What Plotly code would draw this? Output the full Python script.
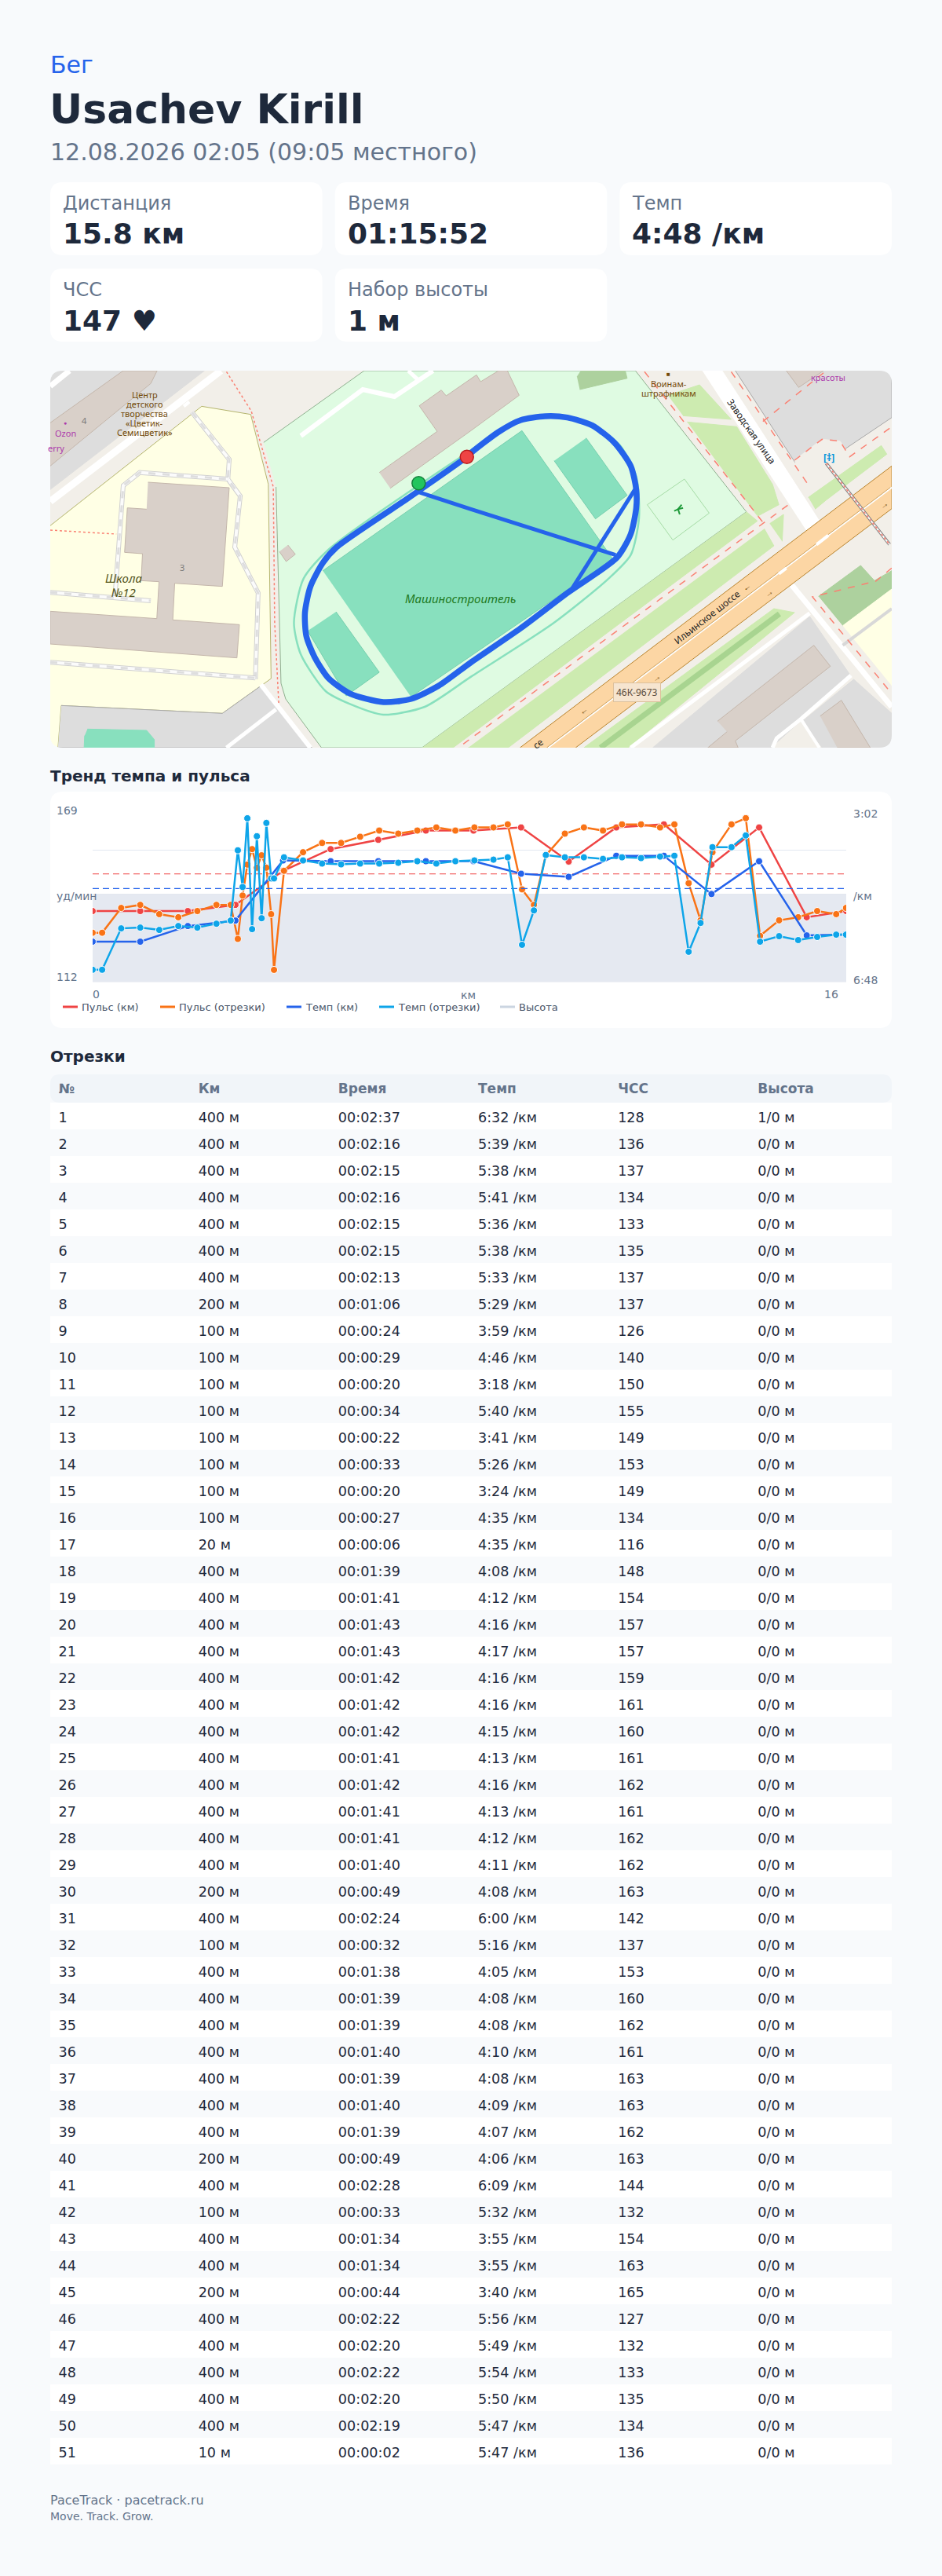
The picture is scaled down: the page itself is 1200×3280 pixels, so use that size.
#!/usr/bin/env python3

import plotly.graph_objects as go

W = 1200
H = 3280
FONT = "DejaVu Sans"
MAP_FONT = "Noto Sans"
BG = "#f8fafc"
INK = "#1e293b"
MUTED = "#64748b"
RED = "#ef4444"
ORANGE = "#f97316"
BLUE = "#2563eb"
SKY = "#0ea5e9"

# summary cards
CARD_LABELS = ["Дистанция", "Время", "Темп", "ЧСС", "Набор высоты"]
CARD_VALUES = ["15.8 км", "01:15:52", "4:48 /км", "147 ♥", "1 м"]

# table rows
SEG_NO = list(range(1, 52))
SEG_DIST = ["400 м", "400 м", "400 м", "400 м", "400 м", "400 м", "400 м", "200 м", "100 м", "100 м",
            "100 м", "100 м", "100 м", "100 м", "100 м", "100 м", "20 м", "400 м", "400 м", "400 м",
            "400 м", "400 м", "400 м", "400 м", "400 м", "400 м", "400 м", "400 м", "400 м", "200 м",
            "400 м", "100 м", "400 м", "400 м", "400 м", "400 м", "400 м", "400 м", "400 м", "200 м",
            "400 м", "100 м", "400 м", "400 м", "200 м", "400 м", "400 м", "400 м", "400 м", "400 м", "10 м"]
SEG_TIME = ["00:02:37", "00:02:16", "00:02:15", "00:02:16", "00:02:15", "00:02:15", "00:02:13", "00:01:06",
            "00:00:24", "00:00:29", "00:00:20", "00:00:34", "00:00:22", "00:00:33", "00:00:20", "00:00:27",
            "00:00:06", "00:01:39", "00:01:41", "00:01:43", "00:01:43", "00:01:42", "00:01:42", "00:01:42",
            "00:01:41", "00:01:42", "00:01:41", "00:01:41", "00:01:40", "00:00:49", "00:02:24", "00:00:32",
            "00:01:38", "00:01:39", "00:01:39", "00:01:40", "00:01:39", "00:01:40", "00:01:39", "00:00:49",
            "00:02:28", "00:00:33", "00:01:34", "00:01:34", "00:00:44", "00:02:22", "00:02:20", "00:02:22",
            "00:02:20", "00:02:19", "00:00:02"]
SEG_PACE = ["6:32", "5:39", "5:38", "5:41", "5:36", "5:38", "5:33", "5:29", "3:59", "4:46",
            "3:18", "5:40", "3:41", "5:26", "3:24", "4:35", "4:35", "4:08", "4:12", "4:16",
            "4:17", "4:16", "4:16", "4:15", "4:13", "4:16", "4:13", "4:12", "4:11", "4:08",
            "6:00", "5:16", "4:05", "4:08", "4:08", "4:10", "4:08", "4:09", "4:07", "4:06",
            "6:09", "5:32", "3:55", "3:55", "3:40", "5:56", "5:49", "5:54", "5:50", "5:47", "5:47"]
SEG_HR = [128, 136, 137, 134, 133, 135, 137, 137, 126, 140,
          150, 155, 149, 153, 149, 134, 116, 148, 154, 157,
          157, 159, 161, 160, 161, 162, 161, 162, 162, 163,
          142, 137, 153, 160, 162, 161, 163, 163, 162, 163,
          144, 132, 154, 163, 165, 127, 132, 133, 135, 134, 136]
SEG_ELEV = ["1/0 м"] + ["0/0 м"] * 50

# chart series, x in km. segments sit on their midpoints, with one extra point at 0
SEG_KM = [0.0, 0.2, 0.6, 1.0, 1.4, 1.8, 2.2, 2.6, 2.9, 3.05, 3.15, 3.25, 3.35, 3.45, 3.55, 3.65, 3.75, 3.81,
          4.02, 4.42, 4.82, 5.22, 5.62, 6.02, 6.42, 6.82, 7.22, 7.62, 8.02, 8.42, 8.72, 9.02, 9.27, 9.52,
          9.92, 10.32, 10.72, 11.12, 11.52, 11.92, 12.22, 12.52, 12.77, 13.02, 13.42, 13.72, 14.02, 14.42,
          14.82, 15.22, 15.62, 15.825]
KM_X = [0, 1, 2, 3, 4, 5, 6, 7, 8, 9, 10, 11, 12, 13, 14, 15, 15.83]
KM_HR = [135, 135, 135, 137, 148, 155, 158, 161, 161, 162, 151, 162, 163, 150, 162, 133, 135]
KM_PACE_SEC = [356, 356, 336, 329, 252, 253, 253, 253, 253, 269, 273, 246, 246, 295, 253, 348, 347]
KM_ELEV = [1, 1, 1, 1, 1, 1, 1, 1, 1, 1, 1, 1, 1, 1, 1, 1, 1]
AVG_HR = 147
AVG_PACE_SEC = 288
HR_RANGE = [112, 169]
PACE_RANGE = [408, 182]

# route on the map, in map units
ROUTE_RING = [(1553, 365), (1378, 495), (1330, 530), (1080, 710), (1030, 770), (985, 860), (965, 960),
              (970, 1050), (1000, 1130), (1050, 1210), (1130, 1270), (1250, 1302), (1350, 1290), (1450, 1240),
              (1568, 1150), (1748, 1020), (1918, 885), (2098, 750), (2148, 660), (2168, 560), (2168, 490),
              (2148, 400), (2088, 310), (2008, 245), (1918, 215), (1838, 210), (1748, 225), (1668, 270),
              (1568, 350), (1553, 365)]
ROUTE_CUTS = [(1378, 500), (1568, 565), (2093, 740), None, (2163, 490), (1928, 880)]
ROUTE_START = (1378, 466)
ROUTE_END = (1553, 365)


def px(x):
    return x / W


def py(y):
    return 1 - y / H


def secs(pace):
    m, s = pace.split(":")
    return int(m) * 60 + int(s)


def rrect(x0, y0, x1, y1, r):
    # rounded rectangle path in paper coordinates
    return (f"M {px(x0 + r)} {py(y0)} L {px(x1 - r)} {py(y0)} Q {px(x1)} {py(y0)} {px(x1)} {py(y0 + r)} "
            f"L {px(x1)} {py(y1 - r)} Q {px(x1)} {py(y1)} {px(x1 - r)} {py(y1)} "
            f"L {px(x0 + r)} {py(y1)} Q {px(x0)} {py(y1)} {px(x0)} {py(y1 - r)} "
            f"L {px(x0)} {py(y0 + r)} Q {px(x0)} {py(y0)} {px(x0 + r)} {py(y0)} Z")


fig = go.Figure()
shapes = []
notes = []


def box(x0, y0, x1, y1, color, r=0):
    shapes.append(dict(type="path", path=rrect(x0, y0, x1, y1, r), xref="paper", yref="paper",
                       fillcolor=color, line=dict(width=0), layer="below"))


def txt(x, y, text, size, color=INK, bold=False, anchor="left"):
    notes.append(dict(x=px(x), y=py(y), xref="paper", yref="paper", text=f"<b>{text}</b>" if bold else text,
                      showarrow=False, xanchor=anchor, yanchor="middle", borderpad=0, borderwidth=0,
                      font=dict(family=FONT, size=size, color=color)))


# ---- header and cards
txt(64, 82, "Бег", 30, BLUE)
txt(63, 139, "Usachev Kirill", 52, INK, True)
txt(64, 193, "12.08.2026 02:05 (09:05 местного)", 30, MUTED)

card_x = [64, 426.67, 789.33]
card_y = [232, 342]
for i, (label_text, value) in enumerate(zip(CARD_LABELS, CARD_VALUES)):
    cx = card_x[i % 3]
    cy = card_y[i // 3]
    box(cx, cy, cx + 346.67, cy + 93, "#ffffff", 16)
    txt(cx + 16, cy + 27, label_text, 24, MUTED)
    txt(cx + 16, cy + 66, value, 36, INK, True)


# ---- map, drawn in its own axes. units are page px scaled 2.85 across and 3 down
def rt(pts):
    # features of the right half of the map are measured from its own left edge
    return [None if p is None else (p[0] + 1568, p[1]) for p in pts]


def xs(pts):
    return [None if p is None else p[0] for p in pts]


def ys(pts):
    return [None if p is None else p[1] for p in pts]


def poly(color, pts, edge=None):
    fig.add_trace(go.Scatter(x=xs(pts), y=ys(pts), xaxis="x2", yaxis="y4", mode="lines", fill="toself",
                             fillcolor=color, line=dict(color=edge or color, width=1), hoverinfo="skip",
                             showlegend=False))


def path(color, width, pts, dash=None, smooth=False):
    line = dict(color=color, width=width, dash=dash)
    if smooth:
        line.update(shape="spline", smoothing=0.7)
    fig.add_trace(go.Scatter(x=xs(pts), y=ys(pts), xaxis="x2", yaxis="y4", mode="lines",
                             line=line, hoverinfo="skip", showlegend=False))


def label(u, v, text, size, color, angle=0):
    notes.append(dict(x=u, y=v, xref="x2", yref="y4", text=text, showarrow=False, textangle=angle,
                      font=dict(family=MAP_FONT, size=size, color=color), borderpad=0))


LAND = "#f2efe9"
GRAY = "#dddddd"
BUILD = "#d9d0c9"
PITCH = "#88e0be"
PARK = "#dffbe2"
GRASS = "#cdebb0"
FOOT = "#fa8072"
YARD = "#ffffe5"
ROAD = "#fcd6a4"

poly(LAND, [(40, 36), (3096, 36), (3096, 1476), (40, 1476)])

# top left block
poly(GRAY, [(40, 36), (600, 36), (40, 490)])
poly(BUILD, [(40, 235), (305, 36), (428, 36), (405, 85), (40, 400)], "#c4b6ab")
path("#ffffff", 7, [(40, 95), (110, 36)])
path("#ffffff", 9, [(40, 535), (660, 36)])

# school
poly(YARD, [(40, 628), (590, 172), (768, 203), (832, 470), (842, 1212), (665, 1345), (80, 1315), (68, 1476), (40, 1476)],
     "#b5b56e")
poly(GRAY, [(80, 1315), (665, 1345), (805, 1240), (990, 1476), (68, 1476)], "#aaaaaa")
poly(PITCH, [(175, 1405), (390, 1410), (418, 1445), (418, 1476), (163, 1476), (165, 1430)])
path("#ffffff", 6, [(805, 1235), (985, 1476)])
path("#ffffff", 5, [(860, 1330), (680, 1476)])
path("#ffffff", 4, [(525, 172), (545, 155)])
poly(BUILD, [(395, 462), (690, 483), (665, 860), (492, 848), (485, 988), (727, 1006), (718, 1133), (40, 1080), (40, 955),
             (427, 983), (435, 842), (370, 838), (375, 735), (310, 730), (320, 560), (390, 565)], "#c4b6ab")
service = [[(555, 195), (690, 375), (685, 450), (730, 515), (710, 710), (795, 885), (785, 1215)],
           [(275, 900), (305, 475), (365, 425), (685, 450)],
           [(40, 883), (405, 915)],
           [(40, 1150), (785, 1210)]]
for s in service:
    path("#d0d0d0", 6, s)
    path("#fbfbfb", 4, s)
    path("#dedede", 3, s, "dash")
path(FOOT, 1.5, [(680, 40), (770, 190), (850, 480), (855, 1000), (870, 1310)], "dot")
path(FOOT, 1.5, [(40, 645), (280, 660)], "dot")

# stadium grounds
poly(PARK, [(815, 310), (1180, 36), (2165, 36), (2568, 575), (1568, 1340), (1390, 1476), (1025, 1476), (895, 1290),
            (878, 1230), (860, 480)], "#8fb08f")
poly(BUILD, [(1235, 425), (1445, 268), (1380, 170), (1460, 110), (1478, 132), (1588, 52), (1603, 78), (1668, 36),
             (1700, 36), (1743, 130), (1568, 265), (1275, 485)], "#c4b6ab")
poly(BUILD, [(903, 702), (930, 737), (897, 765), (872, 727)], "#c4b6ab")
poly("#add19e", rt([(385, 60), (400, 36), (560, 36), (567, 65), (395, 108)]))
path("#ffffff", 6, [(950, 285), (1175, 108), (1290, 135), (1430, 36)])
path("#ffffff", 5, [(1340, 36), (1375, 70)])
poly(PITCH, [(1030, 800), (1753, 265), (2083, 755), (1350, 1282)], "#76cfae")
poly(PITCH, rt([(418, 293), (567, 512), (452, 602), (302, 380)]), "#76cfae")
poly(PITCH, [(1078, 957), (1235, 1188), (1115, 1278), (975, 1030)], "#76cfae")
path(PITCH, 2.5, [(1568, 340), (1050, 720), (960, 830), (925, 1000), (950, 1120), (1040, 1260), (1130, 1310), (1250, 1350),
                  (1400, 1320), (1568, 1205), (1868, 1000), (2068, 830), (2148, 740), (2178, 600), (2168, 440),
                  (2108, 320), (2018, 250), (1918, 215), (1828, 210), (1718, 240), (1568, 340)], smooth=True)
path("#a6dca6", 1, rt([(775, 450), (865, 580), (733, 683), (640, 548), (775, 450)]))
path("#1f9a3a", 2, rt([(765, 548), (752, 565), (758, 585)]))
path("#1f9a3a", 2, rt([(738, 572), (752, 565), (770, 560)]))

# right side: grass, streets, road
poly(GRASS, rt([(1000, 575), (1040, 610), (-65, 1476), (-178, 1476)]))
poly(GRASS, rt([(1065, 640), (1100, 705), (135, 1476), (-10, 1476)]))
poly(GRASS, rt([(715, 130), (830, 90), (945, 222), (770, 208)]))
poly(GRASS, rt([(785, 232), (965, 250), (1095, 470), (1118, 548), (1040, 592)]))
poly(GRASS, rt([(1085, 620), (1135, 585), (1130, 688)]))
poly(GRAY, rt([(960, 36), (1210, 440), (1528, 215), (1528, 36)]), "#a8a8a8")
poly(BUILD, rt([(1145, 36), (1190, 100), (1280, 36)]), "#c4b6ab")
poly(LAND, rt([(1175, 378), (1275, 298), (1340, 305), (1375, 360), (1528, 245), (1528, 300), (1225, 520), (1190, 480)]))
poly(GRASS, rt([(1225, 520), (1490, 322), (1510, 355), (1290, 530), (1250, 565)]))
poly("#ffffff", rt([(840, 36), (912, 36), (1265, 610), (1220, 650)]))
path(FOOT, 1.5, rt([(630, 40), (1060, 615)]), "dash")
path(FOOT, 1.5, rt([(945, 40), (1230, 480)]), "dash")
path(FOOT, 1.5, rt([(1150, 550), (-46, 1476)]), "dash")
path(FOOT, 1.5, rt([(1060, 230), (1290, 36)]), "dash")
path(FOOT, 1.5, rt([(1175, 378), (1275, 298), (1340, 305), (1375, 365), (1528, 250)]), "dash")

# lower right block
poly("#add19e", rt([(1262, 898), (1415, 780), (1465, 838), (1528, 800), (1528, 870), (1350, 1010)]))
poly(YARD, rt([(1350, 1010), (1528, 870), (1528, 1240)]))
poly(GRASS, rt([(410, 1476), (1100, 945), (1175, 960), (570, 1476)]))
path("#a8d490", 7, rt([(470, 1476), (1120, 965)]))
path("#ffffff", 5, rt([(580, 1476), (1230, 962)]))
poly(GRAY, rt([(660, 1476), (1230, 975), (1378, 1200), (1090, 1476)]))
poly(BUILD, rt([(895, 1375), (1245, 1085), (1305, 1165), (960, 1450), (970, 1476), (860, 1476), (930, 1415)]), "#c4b6ab")
poly(GRAY, rt([(1215, 1365), (1390, 1215), (1528, 1345), (1528, 1476), (1275, 1476), (1200, 1370)]))
poly(BUILD, rt([(1268, 1355), (1345, 1295), (1450, 1476), (1330, 1476)]), "#c4b6ab")
path("#ffffff", 7, rt([(1165, 855), (1528, 1320)]))
path("#ffffff", 5, rt([(1380, 1200), (1200, 1365), (1110, 1440), (1095, 1476)]))
path("#ffffff", 4, rt([(1200, 1370), (1265, 1476)]))
path("#d8d8d8", 4, rt([(1350, 1085), (1528, 945)]))
path(FOOT, 1.5, rt([(1528, 790), (1470, 840), (1240, 900), (1528, 1270)]), "dash")

# highway
poly(ROAD, rt([(178, 1476), (1528, 400), (1528, 563), (380, 1476)]), "#b9842e")
path("#fefefe", 2, rt([(280, 1476), (1528, 482)]))
path("#b9842e", 0.7, rt([(275, 1476), (1523, 482)]))
path("#ffffff", 4, rt([(1255, 700), (1298, 665)]))
path("#ffffff", 4, rt([(1118, 812), (1145, 790)]))
path("#808080", 4, rt([(1290, 390), (1520, 700)]))
path("#ffffff", 2, rt([(1290, 390), (1520, 700)]))
path(FOOT, 1.5, rt([(1290, 390), (1520, 700)]), "dot")

# route
path(BLUE, 7.5, ROUTE_RING, smooth=True)
path(BLUE, 5, ROUTE_CUTS)
fig.add_trace(go.Scatter(x=[ROUTE_START[0]], y=[ROUTE_START[1]], xaxis="x2", yaxis="y4", mode="markers",
                         marker=dict(color="#22c55e", size=17, line=dict(color="#15803d", width=1.5)),
                         hoverinfo="skip", showlegend=False))
fig.add_trace(go.Scatter(x=[ROUTE_END[0]], y=[ROUTE_END[1]], xaxis="x2", yaxis="y4", mode="markers",
                         marker=dict(color=RED, size=17, line=dict(color="#b91c1c", width=1.5)),
                         hoverinfo="skip", showlegend=False))

# map labels
BROWN = "#734a08"
PURPLE = "#ac39ac"
label(306, 829, "<i>Школа</i>", 15, "#55551a")
label(306, 881, "<i>№12</i>", 15, "#55551a")
label(520, 787, "3", 11, "#7a7a7a")
label(163, 227, "4", 11, "#7a7a7a")
label(95, 236, "●", 7, PURPLE)
label(95, 273, "Ozon", 11, PURPLE)
label(62, 332, "erry", 11, PURPLE)
for v, t in zip([128, 164, 200, 236, 270], ["Центр", "детского", "творчества", "«Цветик-", "Семицветик»"]):
    label(383, v, t, 11, BROWN)
label(1530, 905, "<i>Машиностроитель</i>", 15, "#1f7a1f")
label(1568 + 718, 47, "■", 8, BROWN)
label(1568 + 718, 86, "Воинам-", 11, BROWN)
label(1568 + 718, 121, "штрафникам", 11, BROWN)
label(1568 + 1298, 60, "красоты", 11, PURPLE)
label(1568 + 1020, 267, "Заводская улица", 12, "#222222", 55)
label(1568 + 858, 975, "Ильинское шоссе", 12, "#222222", -38)
label(1568 + 245, 1460, "се", 12, "#222222", -38)
label(1568 + 1300, 368, "<b>[‡]</b>", 12, "#0092da")
for u, v, t in [(1000, 860, "←"), (405, 1332, "←"), (1080, 882, "→"), (672, 1207, "→"), (1497, 547, "→")]:
    label(1568 + u, v, t, 11, BROWN, -38)
notes.append(dict(x=1568 + 603, y=1263, xref="x2", yref="y4", text="46К-9673", showarrow=False,
                  bgcolor="#f6e5d0", bordercolor="#dcc09c", borderwidth=1, borderpad=3,
                  font=dict(family=MAP_FONT, size=12, color="#5a4a3a")))

# rounded map corners
for cx, cy, dx, dy in [(64, 472, 1, 1), (1136, 472, -1, 1), (64, 952, 1, -1), (1136, 952, -1, -1)]:
    r = 16
    shapes.append(dict(type="path", xref="paper", yref="paper", fillcolor=BG, line=dict(width=0), layer="above",
                       path=(f"M {px(cx)} {py(cy)} L {px(cx + dx * r)} {py(cy)} "
                             f"Q {px(cx)} {py(cy)} {px(cx)} {py(cy + dy * r)} Z")))

# ---- trend chart. elevation holds the base axis so the other two draw over its fill
txt(64, 988, "Тренд темпа и пульса", 20, INK, True)
box(64, 1008, 1136, 1309, "#ffffff", 16)

SEG_PACE_SEC = [secs(p) for p in SEG_PACE]
marker_line = dict(color="#ffffff", width=1)

fig.add_trace(go.Scatter(x=KM_X, y=KM_ELEV, xaxis="x", yaxis="y", mode="lines", name="Высота", fill="tozeroy",
                         fillcolor="#e5e9f1", line=dict(color="#e5e9f1", width=0), showlegend=False))
fig.add_trace(go.Scatter(x=[0, 15.83], y=[AVG_HR, AVG_HR], xaxis="x", yaxis="y2", mode="lines", showlegend=False,
                         hoverinfo="skip", line=dict(color=RED, width=1.2, dash="8px,5px")))
fig.add_trace(go.Scatter(x=[0, 15.83], y=[AVG_PACE_SEC, AVG_PACE_SEC], xaxis="x", yaxis="y3", mode="lines",
                         showlegend=False, hoverinfo="skip", line=dict(color=BLUE, width=1.2, dash="8px,5px")))
fig.add_trace(go.Scatter(x=KM_X, y=KM_HR, xaxis="x", yaxis="y2", mode="lines+markers", name="Пульс (км)",
                         showlegend=False, line=dict(color=RED, width=2.5), marker=dict(size=9, line=marker_line)))
fig.add_trace(go.Scatter(x=SEG_KM, y=[SEG_HR[0]] + SEG_HR, xaxis="x", yaxis="y2", mode="lines+markers",
                         name="Пульс (отрезки)", showlegend=False, line=dict(color=ORANGE, width=2.5),
                         marker=dict(size=9, line=marker_line)))
fig.add_trace(go.Scatter(x=KM_X, y=KM_PACE_SEC, xaxis="x", yaxis="y3", mode="lines+markers", name="Темп (км)",
                         showlegend=False, line=dict(color=BLUE, width=2.5), marker=dict(size=9, line=marker_line)))
fig.add_trace(go.Scatter(x=SEG_KM, y=[SEG_PACE_SEC[0]] + SEG_PACE_SEC, xaxis="x", yaxis="y3",
                         mode="lines+markers", name="Темп (отрезки)", showlegend=False,
                         line=dict(color=SKY, width=2.5), marker=dict(size=9, line=marker_line)))

txt(72, 1032, "169", 14, MUTED)
txt(72, 1141, "уд/мин", 14, MUTED)
txt(72, 1244, "112", 14, MUTED)
txt(1087, 1036, "3:02", 14, MUTED)
txt(1087, 1141, "/км", 14, MUTED)
txt(1087, 1248, "6:48", 14, MUTED)
txt(118, 1266, "0", 14, MUTED)
txt(596, 1267, "км", 14, MUTED, anchor="center")
txt(1059, 1266, "16", 14, MUTED, anchor="center")

legend_items = [(80, "Пульс (км)", RED), (204, "Пульс (отрезки)", ORANGE), (365, "Темп (км)", BLUE),
                (483, "Темп (отрезки)", SKY), (637, "Высота", "#cbd5e1")]
for lx, name, color in legend_items:
    shapes.append(dict(type="line", xref="paper", yref="paper", x0=px(lx), x1=px(lx + 19), y0=py(1282), y1=py(1282),
                       line=dict(color=color, width=3), layer="above"))
    txt(lx + 24, 1282, name, 13, "#475569")

# ---- table
txt(64, 1345, "Отрезки", 20, INK, True)
box(64, 1368, 1136, 1404, "#f1f5f9", 12)
ROW_H = 34.0
for i in range(len(SEG_NO)):
    top = 1404 + i * ROW_H
    box(64, top, 1136, top + ROW_H, "#ffffff" if i % 2 == 0 else BG)

fig.add_trace(go.Table(
    domain=dict(x=[px(66.5), px(1136)], y=[py(3150), py(1368)]),
    columnwidth=[1, 1, 1, 1, 1, 1],
    header=dict(values=["<b>№</b>", "<b>Км</b>", "<b>Время</b>", "<b>Темп</b>", "<b>ЧСС</b>", "<b>Высота</b>"],
                align="left", height=40, fill=dict(color="rgba(0,0,0,0)"), line=dict(width=0),
                font=dict(family=FONT, size=17, color=MUTED)),
    cells=dict(values=[SEG_NO, SEG_DIST, SEG_TIME, [p + " /км" for p in SEG_PACE], SEG_HR, SEG_ELEV],
               align="left", height=ROW_H, fill=dict(color="rgba(0,0,0,0)"), line=dict(width=0),
               font=dict(family=FONT, size=17.6, color=INK))))

# ---- footer
txt(64, 3183, "PaceTrack · pacetrack.ru", 16, MUTED)
txt(64, 3204, "Move. Track. Grow.", 14, MUTED)

hidden = dict(visible=False, fixedrange=True)
fig.update_layout(
    width=W, height=H, margin=dict(l=0, r=0, t=0, b=0), autosize=False,
    paper_bgcolor=BG, plot_bgcolor="rgba(0,0,0,0)", showlegend=False,
    font=dict(family=FONT), shapes=shapes, annotations=notes,
    xaxis=dict(domain=[px(118), px(1078)], range=[0, 15.83], anchor="y", showgrid=False, zeroline=False,
               showticklabels=False, ticks=""),
    yaxis=dict(domain=[py(1250.7), py(1026)], range=[0, 2], anchor="x", tickvals=[0, 0.5, 1, 1.5, 2],
               showticklabels=False, ticks="", gridcolor="#e2e8f0", gridwidth=1, zeroline=False),
    yaxis2=dict(domain=[py(1250.7), py(1026)], range=HR_RANGE, overlaying="y", anchor="x", visible=False),
    yaxis3=dict(domain=[py(1250.7), py(1026)], range=PACE_RANGE, overlaying="y", anchor="x", visible=False),
    xaxis2=dict(domain=[px(64), px(1136)], range=[40, 3096], anchor="y4", **hidden),
    yaxis4=dict(domain=[py(952), py(472)], range=[1476, 36], anchor="x2", **hidden),
)

fig.write_html("out.html", config=dict(displayModeBar=False),
               post_script="document.body.style.margin='0';document.body.style.background='#f8fafc';")
